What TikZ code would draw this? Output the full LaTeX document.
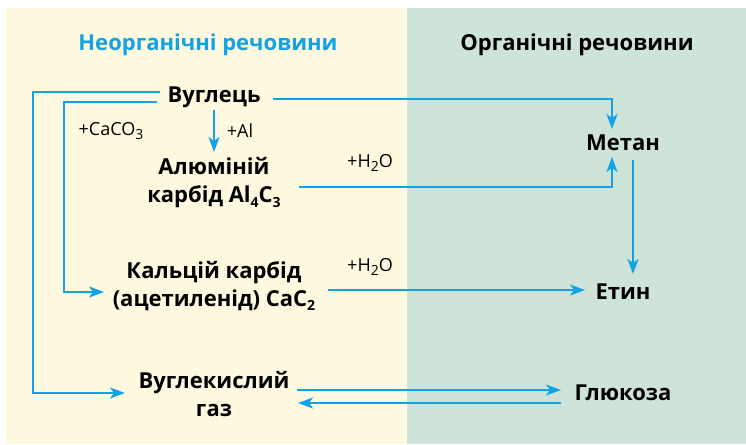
\documentclass[tikz,border=0pt]{standalone}
\usepackage{fontspec}
\setmainfont{Open Sans}
\usetikzlibrary{arrows.meta}
\definecolor{lpanel}{HTML}{FEF9DF}
\definecolor{rpanel}{HTML}{CFE4D8}
\definecolor{arrblue}{HTML}{13A2E3}
\newcommand{\chsb}[1]{\raisebox{-0.35ex}{\fontsize{14}{14}\selectfont #1}}
\begin{document}
\begin{tikzpicture}[x=1pt,y=-1pt,
  every node/.style={inner sep=0pt},
  title/.style={font=\bfseries\fontsize{22}{24}\selectfont},
  box/.style={font=\bfseries\fontsize{22}{28}\selectfont, align=center},
  lbl/.style={font=\fontsize{18}{19}\selectfont},
  ln/.style={draw=arrblue, line width=1.8pt},
  arr/.style={ln, -{Stealth[length=15pt,width=11pt,inset=4pt]}}]
\useasboundingbox (0,0) rectangle (746,444);
\fill[white] (0,0) rectangle (746,444);
\fill[lpanel] (6,8) rectangle (407,444);
\fill[rpanel] (407,8) rectangle (746,444);

\node[title, text=arrblue] (tl) at (208,45) {Неорганічні речовини};
\node[title] (tr) at (577,45) {Органічні речовини};

\node[box] (vug) at (214,97) {Вуглець};
\node[box] (al) at (214,183) {Алюміній\\карбід Al\chsb{\bfseries 4}C\chsb{\bfseries 3}};
\node[box] (ca) at (214,286) {Кальцій карбід\\(ацетиленід) CaC\chsb{\bfseries 2}};
\node[box] (co2) at (214,394) {Вуглекислий\\газ};
\node[box] (met) at (623,143) {Метан};
\node[box] (et) at (623,292) {Етин};
\node[box] (glu) at (623,393) {Глюкоза};

\node[lbl] (lcaco) at (111,131) {+CaCO\chsb{3}};
\node[lbl] (lal) at (240,131) {+Al};
\node[lbl] (lh1) at (370,163) {+H\chsb{2}O};
\node[lbl] (lh2) at (370,267) {+H\chsb{2}O};

% connector end points
\coordinate (v1) at (273,99);
\coordinate (m1) at (612,129);
\coordinate (v2) at (214,110);
\coordinate (a1) at (214,152);
\coordinate (a2) at (299,187);
\coordinate (m2) at (612,157);
\coordinate (m3) at (633,160);
\coordinate (e1) at (633,274);
\coordinate (c1) at (328,290);
\coordinate (e2) at (585,290);
\coordinate (v3) at (160,92);
\coordinate (g1) at (125,393);
\coordinate (v4) at (157,102);
\coordinate (c2) at (104,292);
\coordinate (g2) at (297,390);
\coordinate (gl1) at (561,390);
\coordinate (gl2) at (561,403);
\coordinate (g3) at (298,403);

\draw[arr] (v1) -| (m1);
\draw[arr] (v2) -- (a1);
\draw[arr] (a2) -| (m2);
\draw[arr] (m3) -- (e1);
\draw[arr] (c1) -- (e2);
\draw[arr] (v3) -| (33,393) -- (g1);
\draw[arr] (v4) -| (64,292) -- (c2);
\draw[arr] (g2) -- (gl1);
\draw[arr] (gl2) -- (g3);
\end{tikzpicture}
\end{document}
